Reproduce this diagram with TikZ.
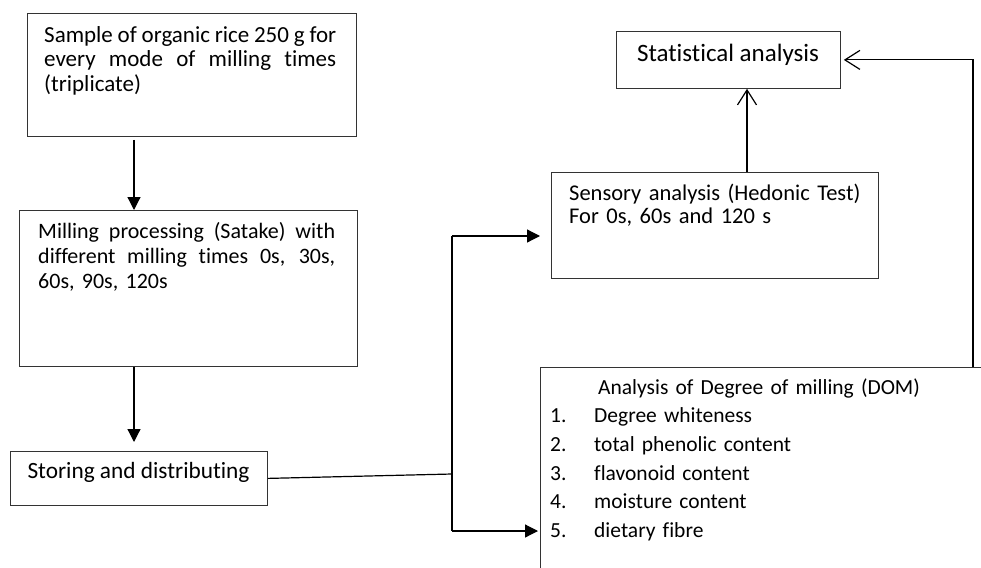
\documentclass[tikz,border=0pt]{standalone}
\usepackage{fontspec}
\setmainfont{Carlito}[Ligatures=NoCommon]
\usetikzlibrary{arrows.meta,calc}
\tikzset{
	box/.style={draw=black!80, line width=0.8pt, inner sep=0pt, anchor=north west},
	txt/.style={inner sep=0pt, anchor=north west, align=left},
	link/.style={line width=1.2pt},
	arr/.style={line width=1.2pt, -{Triangle[length=13pt,width=13pt]}},
	openarr/.style={line width=1.2pt, -{Straight Barb[length=15pt,width=19pt]}},
}
\newcommand{\topstrut}{\leavevmode\rule{0pt}{20pt}}
\newcommand{\fullline}[2]{\leavevmode\hbox to #1{\spaceskip=0.226em plus 1fil minus 0.2em\relax #2}}

\begin{document}
\begin{tikzpicture}[x=1pt,y=-1pt]
			%%%%% START %%%%%
			\useasboundingbox (0,0) rectangle (981,567);
			\clip (0,0) rectangle (981,567);
			
			% boxes
			\node[box, minimum width=329pt, minimum height=123pt] (sample) at (27,13) {};
			\node[box, minimum width=338pt, minimum height=156pt] (milling) at (19,210) {};
			\node[box, minimum width=257pt, minimum height=54pt] (storing) at (10,451) {};
			\node[box, minimum width=224pt, minimum height=57pt] (stats) at (616,31) {};
			\node[box, minimum width=327pt, minimum height=106pt] (sensory) at (551,172) {};
			\node[box, minimum width=460pt, minimum height=260pt] (dom) at (540,367) {};
			
			% texts
			\node[txt, text width=300pt, font=\fontsize{23}{24.5}\selectfont] (sampletxt) at (44,22) {\topstrut\fullline{292pt}{Sample of organic rice 250 g for}\\\fullline{292pt}{every mode of milling times}\\(triplicate)};
			\node[txt, text width=310pt, font=\fontsize{22}{25}\selectfont] (millingtxt) at (38,218) {\topstrut\fullline{297pt}{Milling processing (Satake) with}\\\fullline{297pt}{different milling times 0s, 30s,}\\60s, 90s, 120s};
			\node[inner sep=0pt, anchor=base, font=\fontsize{23.3}{25}\selectfont] (storingtxt) at (138.5,478) {Storing and distributing};
			\node[inner sep=0pt, anchor=base, font=\fontsize{25}{28}\selectfont] (statstxt) at (728,62) {Statistical analysis};
			\node[txt, text width=310pt, font=\fontsize{22.5}{23.5}\selectfont] (sensorytxt) at (569,180) {\topstrut Sensory analysis (Hedonic Test)\\For 0s, 60s and 120 s};
			\node[txt, text width=420pt, font=\fontsize{21.5}{28.6}\selectfont] (domtxt) at (550,374) {\topstrut\hspace*{48pt}Analysis of Degree of milling (DOM)\\\makebox[44pt][l]{1.}Degree whiteness\\\makebox[44pt][l]{2.}total phenolic content\\\makebox[44pt][l]{3.}flavonoid content\\\makebox[44pt][l]{4.}moisture content\\\makebox[44pt][l]{5.}dietary fibre};
			
			% left column arrows
			\coordinate (ab) at ($(sample.south west)+(107,0)$);
			\draw[arr, shorten <=3pt] (ab) -- (ab |- milling.north);
			\coordinate (bc) at ($(milling.south west)+(115,0)$);
			\draw[arr, shorten >=9pt] (bc) -- (bc |- storing.north);
			
			% split to the analyses
			\coordinate (split) at (452,474);
			\coordinate (splittop) at (452,236);
			\coordinate (splitbot) at (452,531);
			\draw[link] (storing.east) -- (split);
			\draw[link] (splittop) -- (splitbot);
			\draw[arr, shorten >=11pt] (splittop) -- (splittop -| sensory.west);
			\draw[arr, shorten >=2pt] (splitbot) -- (splitbot -| dom.west);
			
			% to statistics
			\coordinate (up) at ($(sensory.north west)+(196,0)$);
			\draw[openarr] (up) -- (up |- stats.south);
			\coordinate (loop) at ($(dom.north west)+(433,0)$);
			\draw[openarr, shorten >=3pt] (loop) |- (stats.east);
			
			%%%%% END %%%%%
\end{tikzpicture}
\end{document}
